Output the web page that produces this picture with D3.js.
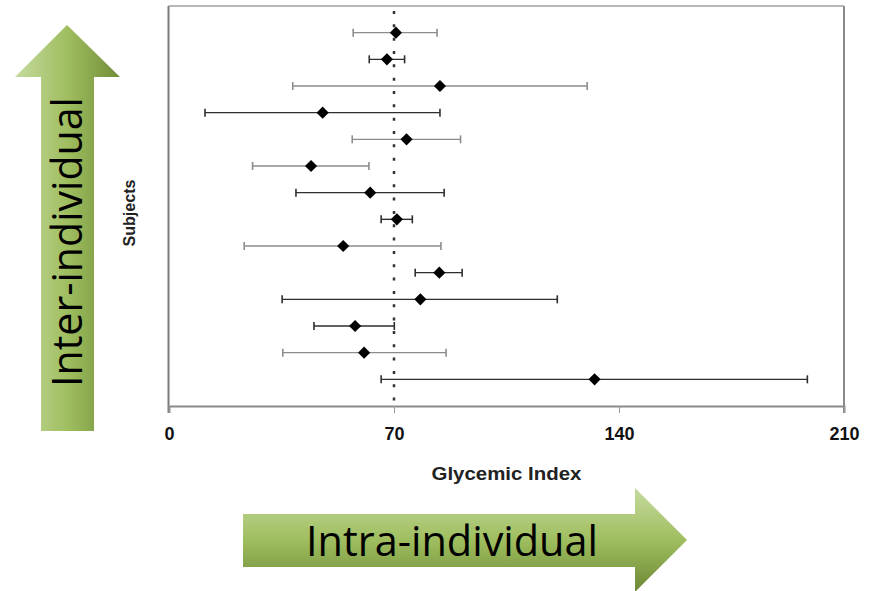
<!DOCTYPE html>
<html><head><meta charset="utf-8">
<script src="https://cdn.jsdelivr.net/npm/d3@7"></script>
<style>body{margin:0;background:#fff;overflow:hidden}</style>
</head><body>
<svg id="chart" width="879" height="591"></svg>
<script>
// ---- data ----
const subjects = [1, 2, 3, 4, 5, 6, 7, 8, 9, 10, 11, 12, 13, 14];
const means = [70.6, 67.8, 84.3, 47.8, 73.9, 44.2, 62.6, 70.9, 54.2, 84.1, 78.2, 57.9, 60.7, 132.4];
const lows  = [57.3, 62.3, 38.5, 11.2, 57.0, 26.0, 39.5, 66.0, 23.4, 76.6, 35.2, 45.1, 35.4, 66.0];
const highs = [83.4, 73.3, 130.1, 84.3, 90.7, 62.2, 85.6, 75.7, 84.6, 91.2, 120.8, 70.1, 86.2, 198.6];
const barTone = ["gray", "dark", "gray", "dark", "gray", "gray", "dark", "dark", "gray", "dark", "dark", "dark", "gray", "dark"];
const xTicks = [0, 70, 140, 210];
const referenceGI = 70;
const xTitle = "Glycemic Index";
const yTitle = "Subjects";
const interLabel = "Inter-individual";
const intraLabel = "Intra-individual";

const svg = d3.select("#chart");
const pLeft = 169, pRight = 844, pTop = 6, pBottom = 406;

const x = d3.scaleLinear().domain([0, 210]).range([pLeft, pRight]);
const y = d3.scaleLinear().domain([0, subjects.length + 1]).range([pTop, pBottom]);

const rows = subjects.map((s, i) => ({s, m: means[i], lo: lows[i], hi: highs[i], tone: barTone[i]}));

// ---- gradients ----
const defs = svg.append("defs");
const gv = defs.append("linearGradient").attr("id", "gv")
  .attr("gradientUnits", "userSpaceOnUse").attr("x1", 15).attr("y1", 0).attr("x2", 120).attr("y2", 0);
gv.append("stop").attr("offset", 0).attr("stop-color", "#c6da9f");
gv.append("stop").attr("offset", 0.5).attr("stop-color", "#9fbe5f");
gv.append("stop").attr("offset", 1).attr("stop-color", "#718d38");
const gh = defs.append("linearGradient").attr("id", "gh")
  .attr("gradientUnits", "userSpaceOnUse").attr("x1", 0).attr("y1", 488).attr("x2", 0).attr("y2", 592);
gh.append("stop").attr("offset", 0).attr("stop-color", "#c6da9f");
gh.append("stop").attr("offset", 0.5).attr("stop-color", "#9fbe5f");
gh.append("stop").attr("offset", 1).attr("stop-color", "#6c8834");

// ---- frame ----
const frame = svg.append("g");
frame.append("line").attr("x1", pLeft - 0.5).attr("x2", pRight).attr("y1", pTop).attr("y2", pTop)
  .attr("stroke", "#a0a0a0").attr("stroke-width", 1.5);
frame.append("line").attr("x1", pLeft - 0.5).attr("x2", pLeft - 0.5).attr("y1", pTop).attr("y2", pBottom + 7)
  .attr("stroke", "#7a7a7a").attr("stroke-width", 2);
frame.append("line").attr("x1", pRight).attr("x2", pRight).attr("y1", pTop).attr("y2", pBottom + 7)
  .attr("stroke", "#8a8a8a").attr("stroke-width", 2);

// ---- x axis ----
const ax = svg.append("g").attr("transform", `translate(0,${pBottom})`)
  .call(d3.axisBottom(x).tickValues(xTicks).tickSize(7).tickPadding(14).tickFormat(d3.format("d")));
ax.select(".domain").attr("stroke", "#8a8a8a").attr("stroke-width", 2);
ax.selectAll(".tick line").attr("stroke", "#9a9a9a").attr("stroke-width", 1);
ax.selectAll(".tick text").attr("font-family", "Liberation Sans, Arial, sans-serif")
  .attr("font-weight", "bold").attr("font-size", 18).attr("fill", "#111");

svg.append("text").attr("x", (pLeft + pRight) / 2).attr("y", 480).attr("text-anchor", "middle")
  .attr("font-family", "Liberation Sans, Arial, sans-serif").attr("font-weight", "bold")
  .attr("font-size", 18).attr("fill", "#222").attr("textLength", 150).attr("lengthAdjust", "spacingAndGlyphs")
  .text(xTitle);

svg.append("text").attr("transform", "translate(135,213) rotate(-90)").attr("text-anchor", "middle")
  .attr("font-family", "Liberation Sans, Arial, sans-serif").attr("font-weight", "bold")
  .attr("font-size", 16).attr("fill", "#222").attr("textLength", 67).attr("lengthAdjust", "spacingAndGlyphs")
  .text(yTitle);

// ---- reference dotted line ----
svg.append("line").attr("x1", x(referenceGI)).attr("x2", x(referenceGI))
  .attr("y1", pTop + 5).attr("y2", pBottom)
  .attr("stroke", "#333").attr("stroke-width", 2.5).attr("stroke-dasharray", "3 10.33");

// ---- error bars ----
const toneColor = {gray: "#8c8c8c", dark: "#2e2e2e"};
const g = svg.append("g");
const r = g.selectAll("g.row").data(rows).join("g").attr("class", "row");
r.append("line").attr("x1", d => x(d.lo)).attr("x2", d => x(d.hi))
  .attr("y1", d => y(d.s)).attr("y2", d => y(d.s))
  .attr("stroke", d => toneColor[d.tone]).attr("stroke-width", 1.4);
r.append("line").attr("x1", d => x(d.lo)).attr("x2", d => x(d.lo))
  .attr("y1", d => y(d.s) - 4).attr("y2", d => y(d.s) + 4)
  .attr("stroke", d => toneColor[d.tone]).attr("stroke-width", 1.6);
r.append("line").attr("x1", d => x(d.hi)).attr("x2", d => x(d.hi))
  .attr("y1", d => y(d.s) - 4).attr("y2", d => y(d.s) + 4)
  .attr("stroke", d => toneColor[d.tone]).attr("stroke-width", 1.6);
r.append("path").attr("d", d3.symbol(d3.symbolSquare, 74)())
  .attr("transform", d => `translate(${x(d.m)},${y(d.s)}) rotate(45)`)
  .attr("fill", "#000");

// ---- vertical arrow ----
svg.append("path").attr("d", "M41,431 L41,77 L15,77 L67,25 L120,77 L94,77 L94,431 Z")
  .attr("fill", "url(#gv)");
svg.append("text").attr("transform", "translate(82,242) rotate(-90)").attr("text-anchor", "middle")
  .attr("font-family", "Open Sans, Noto Sans, sans-serif").attr("font-size", 42).attr("fill", "#000")
  .attr("textLength", 290).attr("lengthAdjust", "spacingAndGlyphs").text(interLabel);

// ---- horizontal arrow ----
svg.append("path").attr("d", "M243,514 L635,514 L635,488 L687,540 L635,592 L635,567 L243,567 Z")
  .attr("fill", "url(#gh)");
svg.append("text").attr("x", 452).attr("y", 556).attr("text-anchor", "middle")
  .attr("font-family", "Open Sans, Noto Sans, sans-serif").attr("font-size", 42).attr("fill", "#000")
  .attr("textLength", 292).attr("lengthAdjust", "spacingAndGlyphs").text(intraLabel);
</script>
</body></html>
